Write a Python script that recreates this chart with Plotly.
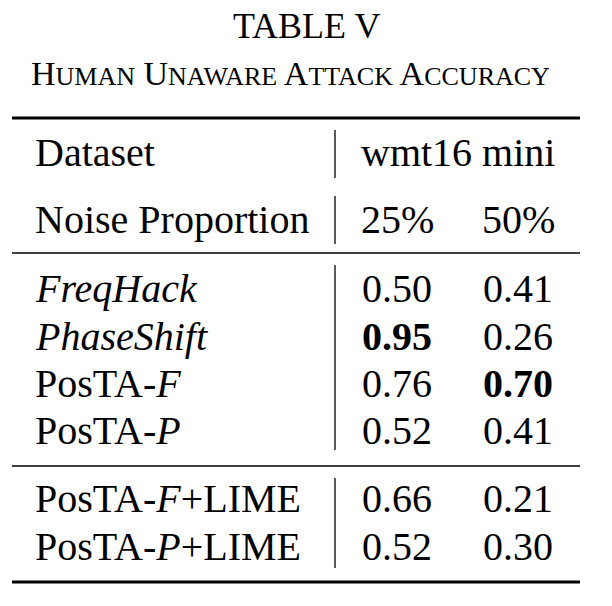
import plotly.graph_objects as go

methods = ["<i>FreqHack</i>", "<i>PhaseShift</i>", "PosTA-<i>F</i>", "PosTA-<i>P</i>",
           "PosTA-<i>F</i>+LIME", "PosTA-<i>P</i>+LIME"]
noise_labels = ["25%", "50%"]
acc_25 = [0.50, 0.95, 0.76, 0.52, 0.66, 0.52]
acc_50 = [0.41, 0.26, 0.70, 0.41, 0.21, 0.30]

W, H = 612, 606
OFF = 8
FONT = "Liberation Serif, Times New Roman, serif"
FS = 40

fig = go.Figure()
fig.update_layout(width=W, height=H, margin=dict(l=0, r=0, t=0, b=0),
                  paper_bgcolor="white", plot_bgcolor="white", showlegend=False,
                  xaxis=dict(range=[0, W], visible=False, fixedrange=True),
                  yaxis=dict(range=[H, 0], visible=False, fixedrange=True))

def txt(x, y, s, anchor="left", size=FS):
    fig.add_annotation(x=x - OFF, y=y - OFF, xref="x", yref="y", text=s, showarrow=False,
                       xanchor=anchor, yanchor="middle",
                       font=dict(family=FONT, size=size, color="black"))

def hline(y, w):
    fig.add_shape(type="line", x0=12 - OFF, x1=580 - OFF, y0=y - OFF, y1=y - OFF, xref="x", yref="y",
                  line=dict(color="black", width=w))

def vline(y0, y1):
    fig.add_shape(type="line", x0=335 - OFF, x1=335 - OFF, y0=y0 - OFF, y1=y1 - OFF, xref="x", yref="y",
                  line=dict(color="black", width=1.3))

def sc(word, big=34, small=26):
    return f"<span style='font-size:{big}px'>{word[0]}</span><span style='font-size:{small}px'>{word[1:]}</span>"

txt(306, 26, "TABLE V", "center", 36)
txt(290, 73, " ".join(sc(w) for w in ["HUMAN", "UNAWARE", "ATTACK", "ACCURACY"]), "center", 34)

hline(118, 2.8)
hline(253, 1.5)
hline(466, 1.5)
hline(582, 2.8)
vline(130, 178); vline(196, 244); vline(265, 450); vline(478, 568)

col_x = [397, 518]
txt(33, 152, "Dataset")
txt(458, 152, "wmt16 mini", "center")
txt(33, 219, "Noise Proportion")
for x, lab in zip(col_x, noise_labels):
    txt(x, 219, lab, "center")

row_y = [288, 336, 383, 430, 498, 546]
m25, m50 = max(acc_25), max(acc_50)
for y, m, a, b in zip(row_y, methods, acc_25, acc_50):
    txt(33, y, m)
    for x, v, mx in ((col_x[0], a, m25), (col_x[1], b, m50)):
        s = f"{v:.2f}"
        txt(x, y, f"<b>{s}</b>" if v == mx else s, "center")

fig.write_html("out.html")
